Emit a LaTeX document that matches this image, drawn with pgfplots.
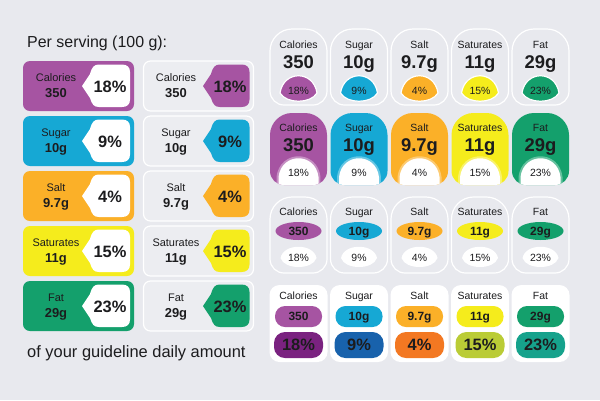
\documentclass[border=0pt]{standalone}
\usepackage{pgfplots}
\pgfplotsset{compat=1.18}
\usepackage{fontspec}
\setmainfont{Liberation Sans}
\definecolor{bg}{RGB}{232,233,238}
\definecolor{bgl}{RGB}{236,237,241}
\definecolor{txt}{RGB}{28,28,30}
\definecolor{c0}{RGB}{166,84,162}
\definecolor{c1}{RGB}{22,168,212}
\definecolor{c2}{RGB}{251,176,40}
\definecolor{c3}{RGB}{245,236,28}
\definecolor{c4}{RGB}{20,160,108}
\definecolor{d0}{RGB}{122,34,128}
\definecolor{d1}{RGB}{24,98,172}
\definecolor{d2}{RGB}{243,120,34}
\definecolor{d3}{RGB}{186,204,54}
\definecolor{d4}{RGB}{22,162,140}
% data: index, name, amount, percent of guideline daily amount
\newcommand\nutrient[4]{\expandafter\def\csname nm#1\endcsname{#2}\expandafter\def\csname am#1\endcsname{#3}\expandafter\def\csname pc#1\endcsname{#4}}
\nutrient{0}{Calories}{350}{18}
\nutrient{1}{Sugar}{10g}{9}
\nutrient{2}{Salt}{9.7g}{4}
\nutrient{3}{Saturates}{11g}{15}
\nutrient{4}{Fat}{29g}{23}
\newcommand\NM[1]{\csname nm#1\endcsname}
\newcommand\AM[1]{\csname am#1\endcsname}
\newcommand\PC[1]{\csname pc#1\endcsname}
\newcommand\T[5][base]{\node[anchor=#1,inner sep=0pt,text=txt,font=\fontsize{#4}{#4}\selectfont] at ({#2},{#3+0.36*#4}) {#5};}
% tag shape: x of point, top of row box, x of right edge
\newcommand\tagshape[3]{({#1},{#2+25}) -- ({#1+8},{#2+13}) .. controls ({#1+10},{#2+6}) and ({#1+12},{#2+3.5}) .. ({#1+17},{#2+3.5}) -- ({#3-8},{#2+3.5}) .. controls ({#3-3},{#2+3.5}) and ({#3},{#2+6}) .. ({#3},{#2+11}) -- ({#3},{#2+38.5}) .. controls ({#3},{#2+43.5}) and ({#3-3},{#2+46}) .. ({#3-8},{#2+46}) -- ({#1+17},{#2+46}) .. controls ({#1+12},{#2+46}) and ({#1+10},{#2+43.5}) .. ({#1+8},{#2+37}) -- cycle}
% tombstone shape: column, top, bottom
\newcommand\tomb[3]{({298.5+60.5*#1-28.5},{#3-14}) -- ({298.5+60.5*#1-28.5},{#2+22}) .. controls ({298.5+60.5*#1-28.5},{#2+10}) and ({298.5+60.5*#1-18.5},{#2}) .. ({298.5+60.5*#1-6.5},{#2}) -- ({298.5+60.5*#1+6.5},{#2}) .. controls ({298.5+60.5*#1+18.5},{#2}) and ({298.5+60.5*#1+28.5},{#2+10}) .. ({298.5+60.5*#1+28.5},{#2+22}) -- ({298.5+60.5*#1+28.5},{#3-14}) .. controls ({298.5+60.5*#1+28.5},{#3-6}) and ({298.5+60.5*#1+22},{#3}) .. ({298.5+60.5*#1+14.5},{#3}) -- ({298.5+60.5*#1-14.5},{#3}) .. controls ({298.5+60.5*#1-22},{#3}) and ({298.5+60.5*#1-28.5},{#3-6}) .. cycle}
\begin{document}
\begin{tikzpicture}
\begin{axis}[width=600bp,height=400bp,scale only axis,xmin=0,xmax=600,ymin=0,ymax=400,y dir=reverse,hide axis,clip=false]
\fill[bg] (0,0) rectangle (600,400);
\T[base west]{27}{42}{16}{Per serving (100 g):}
\T[base west]{27}{352}{16.5}{of your guideline daily amount}
% left two columns
\pgfplotsinvokeforeach{0,...,4}{
 \fill[c#1,rounded corners=7] (23,{61+55*#1}) rectangle (134,{111+55*#1});
 \fill[white] \tagshape{82}{61+55*#1}{130};
 \T{56}{61+55*#1+17}{11}{\NM{#1}}
 \T{56}{61+55*#1+32}{13}{\bfseries\AM{#1}}
 \T{110}{61+55*#1+26}{16.5}{\bfseries\PC{#1}\%}
 \draw[white,line width=1.2,fill=bgl,rounded corners=7] (143.5,{61+55*#1}) rectangle (253.5,{111+55*#1});
 \fill[c#1] \tagshape{203}{61+55*#1}{249.5};
 \T{176}{61+55*#1+17}{11}{\NM{#1}}
 \T{176}{61+55*#1+32}{13}{\bfseries\AM{#1}}
 \T{230}{61+55*#1+26}{16.5}{\bfseries\PC{#1}\%}
}
% right: four styles, five columns
\pgfplotsinvokeforeach{0,...,4}{
 % row A
 \draw[white,line width=1.2] \tomb{#1}{29}{105};
 \filldraw[fill=c#1,draw=white,line width=1.2] ({298.5+60.5*#1-18.5},93) .. controls ({298.5+60.5*#1-15},70) and ({298.5+60.5*#1+15},70) .. ({298.5+60.5*#1+18.5},93) .. controls ({298.5+60.5*#1+12},104) and ({298.5+60.5*#1-12},104) .. cycle;
 \T{298.5+60.5*#1}{45}{10.5}{\NM{#1}}
 \T{298.5+60.5*#1}{62}{18.5}{\bfseries\AM{#1}}
 \T{298.5+60.5*#1}{91}{10.5}{\PC{#1}\%}
 % row B
 \fill[c#1] \tomb{#1}{113}{185};
 \begin{scope}
 \clip \tomb{#1}{113}{185};
 \draw[white,opacity=0.35,line width=4] ({298.5+60.5*#1-20},190) -- ({298.5+60.5*#1-20},177) .. controls ({298.5+60.5*#1-17},152) and ({298.5+60.5*#1+17},152) .. ({298.5+60.5*#1+20},177) -- ({298.5+60.5*#1+20},190);
 \fill[white] ({298.5+60.5*#1-20},190) -- ({298.5+60.5*#1-20},177) .. controls ({298.5+60.5*#1-17},152) and ({298.5+60.5*#1+17},152) .. ({298.5+60.5*#1+20},177) -- ({298.5+60.5*#1+20},190) -- cycle;
 \end{scope}
 \T{298.5+60.5*#1}{128}{10.5}{\NM{#1}}
 \T{298.5+60.5*#1}{145}{18.5}{\bfseries\AM{#1}}
 \T{298.5+60.5*#1}{173}{10.5}{\PC{#1}\%}
 % row C
 \draw[white,line width=1.2] \tomb{#1}{197}{273};
 \fill[c#1] ({298.5+60.5*#1},231) ellipse [x radius=23, y radius=9];
 \fill[white] ({298.5+60.5*#1-18},258) .. controls ({298.5+60.5*#1-15},243) and ({298.5+60.5*#1+15},243) .. ({298.5+60.5*#1+18},258) .. controls ({298.5+60.5*#1+14},270) and ({298.5+60.5*#1-14},270) .. cycle;
 \T{298.5+60.5*#1}{212}{10.5}{\NM{#1}}
 \T{298.5+60.5*#1}{231}{12}{\bfseries\AM{#1}}
 \T{298.5+60.5*#1}{258}{10.5}{\PC{#1}\%}
 % row D
 \fill[white,rounded corners=10] ({298.5+60.5*#1-29},285) rectangle ({298.5+60.5*#1+29},362);
 \fill[c#1,rounded corners=10] ({298.5+60.5*#1-23.5},306) rectangle ({298.5+60.5*#1+23.5},327);
 \fill[d#1,rounded corners=11] ({298.5+60.5*#1-24.5},332) rectangle ({298.5+60.5*#1+24.5},358);
 \T{298.5+60.5*#1}{296}{10.5}{\NM{#1}}
 \T{298.5+60.5*#1}{316.5}{12}{\bfseries\AM{#1}}
 \T{298.5+60.5*#1}{345}{16.5}{\bfseries\PC{#1}\%}
}
\end{axis}
\end{tikzpicture}
\end{document}
